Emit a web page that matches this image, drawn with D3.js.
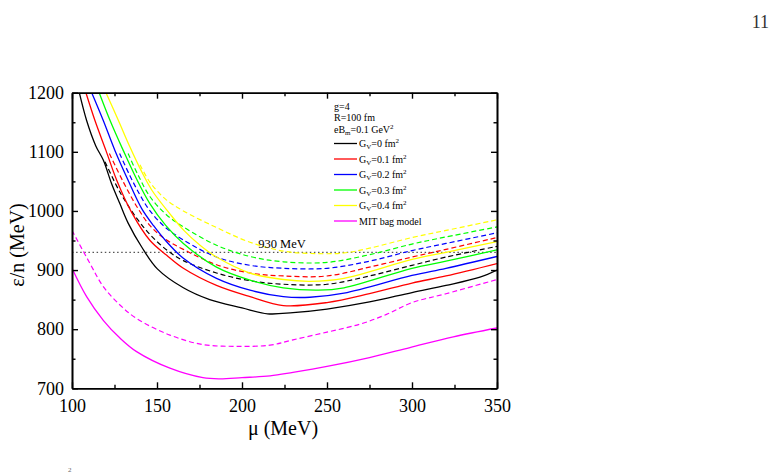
<!DOCTYPE html>
<html>
<head>
<meta charset="utf-8">
<script src="https://cdn.jsdelivr.net/npm/d3@7"></script>
<style>
  body { margin: 0; background: #fff; }
  svg text { font-family: "Liberation Serif", "Times New Roman", serif; fill: #000; }
</style>
</head>
<body>
<svg id="chart1" width="783" height="473"></svg>
<script>
// curves: [mu (MeV), energy per baryon (MeV)]
const gv0Solid = [[104.3,1200],[108.6,1153],[114,1110],[118.4,1086],[123.3,1046],[128.2,1012],[133.1,979],[141,939],[150.2,902],[165.5,870],[181,850],[200,836],[215,826],[230,828],[250,834],[275,846],[300,862],[320,874],[340,888],[350,900]];
const gv1Solid = [[108.2,1200],[113.5,1153],[120,1102],[126.3,1052],[135,998],[145.9,950],[155.7,925],[165.5,903],[185,874],[204.7,855],[224.3,840],[250,845],[275,860],[300,878],[320,890],[350,911]];
const gv2Solid = [[111.6,1200],[118.4,1153],[125.3,1102],[133,1052],[141,1004],[148,975],[155,950],[165.5,920],[185,886],[204.7,866],[224.3,855],[240,854],[260,861],[300,891],[320,903],[350,923]];
const gv3Solid = [[116,1200],[122.4,1153],[130.2,1102],[138,1054],[145.9,1012],[155,976],[165.5,945],[185,905],[204.7,883],[224.3,870],[245,866],[260,870],[300,903],[320,915],[350,934]];
const gv4Solid = [[120,1200],[127.3,1153],[134.1,1108],[140,1072],[147,1035],[157.6,995],[165.5,968],[175.3,942],[185,922],[204.7,895],[224.3,884],[240,881],[260,886],[300,918],[320,930],[350,948]];
const mitSolid = [[100,903],[108.6,855],[118.4,815],[128.2,785],[138,762],[157.6,734],[177,718],[186.8,716],[200,718],[216.5,721],[230,727],[250,737],[275,752],[298.8,769],[324.3,787],[350,802]];

const gv0Dashed = [[119.4,1083],[126.3,1042],[130.2,1022],[138,988],[145.9,960],[155.7,934],[165.5,916],[185,895],[204.7,882],[224.3,876],[250,876],[275,890],[300,908],[320,922],[350,940]];
const gv1Dashed = [[122,1097],[130,1050],[138,1008],[145.9,975],[155,952],[165.5,935],[185,909],[204.7,895],[224.3,890],[250,890],[275,905],[300,922],[320,935],[350,955]];
const gv2Dashed = [[128,1097],[134,1060],[140,1027],[145.9,1000],[155,972],[165.5,951],[185,922],[204.7,908],[224.3,903],[250,903],[275,915],[300,933],[320,945],[350,963]];
const gv3Dashed = [[133,1097],[139,1060],[145.9,1024],[155,995],[165.5,973],[185,942],[204.7,923],[224.3,914],[250,913],[275,926],[300,944],[320,956],[350,973]];
const gv4Dashed = [[140,1078],[146,1048],[155,1020],[165.5,1000],[185,972],[204.7,947],[224.3,932],[240,928],[260,929],[275,937],[300,955],[320,967],[350,985]];
const mitDashed = [[100,967],[110.6,911],[118.4,872],[128.2,841],[138,818],[157.6,790],[177,774],[196.9,771],[216.5,773],[230,782],[250,795],[270,809],[285,825],[300,845],[320,860],[350,884]];

const gvValues = ["0", "0.1", "0.2", "0.3", "0.4"];
const colors = ["#000000", "#ff0000", "#0000ff", "#00ff00", "#ffff00", "#ff00ff"];
const xTicks = [100, 150, 200, 250, 300, 350];
const yTicks = [700, 800, 900, 1000, 1100, 1200];
const refLine = 930;

let margin = {left: 72, right: 497, top: 92.7, bottom: 388.3};
let xLinear, yLinear;

document.addEventListener("DOMContentLoaded", () => {
  const svg = d3.select("#chart1");
  xLinear = d3.scaleLinear().domain([100, 350]).range([margin.left, margin.right]);
  yLinear = d3.scaleLinear().domain([700, 1200]).range([margin.bottom, margin.top]);

  svg.append("text").attr("x", 769).attr("y", 28).attr("text-anchor", "end")
    .style("font-size", "18px").style("fill", "#333").text("11");
  svg.append("text").attr("x", 68).attr("y", 472)
    .style("font-size", "7px").style("fill", "#666").text("2");

  svg.append("clipPath").attr("id", "plotClip").append("rect")
    .attr("x", margin.left).attr("y", margin.top)
    .attr("width", margin.right - margin.left).attr("height", margin.bottom - margin.top);

  const plot = svg.append("g").attr("clip-path", "url(#plotClip)");
  const line = d3.line().x(d => xLinear(d[0])).y(d => yLinear(d[1])).curve(d3.curveCatmullRom.alpha(0.5));

  // 930 MeV reference
  plot.append("line")
    .attr("x1", xLinear(100)).attr("x2", xLinear(350))
    .attr("y1", yLinear(refLine)).attr("y2", yLinear(refLine))
    .attr("stroke", "#555").attr("stroke-width", 1.3).attr("stroke-dasharray", "1.5,2.6");

  const dashed = [gv0Dashed, gv1Dashed, gv2Dashed, gv3Dashed, gv4Dashed, mitDashed];
  const solid = [gv0Solid, gv1Solid, gv2Solid, gv3Solid, gv4Solid, mitSolid];
  dashed.forEach((d, i) => {
    plot.append("path").datum(d).attr("d", line).attr("fill", "none")
      .attr("stroke", colors[i]).attr("stroke-width", 1.2).attr("stroke-dasharray", "5,3");
  });
  solid.forEach((d, i) => {
    plot.append("path").datum(d).attr("d", line).attr("fill", "none")
      .attr("stroke", colors[i]).attr("stroke-width", 1.3);
  });

  svg.append("text").attr("x", xLinear(209.5)).attr("y", 248)
    .style("font-size", "12.5px").text("930 MeV");

  // axes, ticks inward on all four sides
  const xMinor = d3.range(125, 350, 50);
  const yMinor = d3.range(750, 1200, 100);
  const fmt = d3.format("d");
  const ax = svg.append("g");
  ax.append("g").attr("transform", `translate(0,${margin.bottom})`)
    .call(d3.axisBottom(xLinear).tickValues(xTicks).tickFormat(fmt).tickSizeInner(-6).tickSizeOuter(0).tickPadding(11));
  ax.append("g").attr("transform", `translate(0,${margin.bottom})`)
    .call(d3.axisBottom(xLinear).tickValues(xMinor).tickSizeInner(-3.5).tickSizeOuter(0).tickFormat(""));
  ax.append("g").attr("transform", `translate(0,${margin.top})`)
    .call(d3.axisTop(xLinear).tickValues(xTicks).tickSizeInner(-6).tickSizeOuter(0).tickFormat(""));
  ax.append("g").attr("transform", `translate(0,${margin.top})`)
    .call(d3.axisTop(xLinear).tickValues(xMinor).tickSizeInner(-3.5).tickSizeOuter(0).tickFormat(""));
  ax.append("g").attr("transform", `translate(${margin.left},0)`)
    .call(d3.axisLeft(yLinear).tickValues(yTicks).tickFormat(fmt).tickSizeInner(-6).tickSizeOuter(0).tickPadding(8));
  ax.append("g").attr("transform", `translate(${margin.left},0)`)
    .call(d3.axisLeft(yLinear).tickValues(yMinor).tickSizeInner(-3.5).tickSizeOuter(0).tickFormat(""));
  ax.append("g").attr("transform", `translate(${margin.right},0)`)
    .call(d3.axisRight(yLinear).tickValues(yTicks).tickSizeInner(-6).tickSizeOuter(0).tickFormat(""));
  ax.append("g").attr("transform", `translate(${margin.right},0)`)
    .call(d3.axisRight(yLinear).tickValues(yMinor).tickSizeInner(-3.5).tickSizeOuter(0).tickFormat(""));
  ax.selectAll(".domain").attr("stroke", "#000").attr("stroke-width", 1.6);
  ax.selectAll(".tick line").attr("stroke", "#000").attr("stroke-width", 1.4);
  ax.selectAll(".tick text").style("font-family", "Liberation Serif, serif")
    .style("font-size", "18px").attr("fill", "#000");

  svg.append("text").attr("x", 283).attr("y", 435).attr("text-anchor", "middle")
    .style("font-size", "20px").text("μ (MeV)");
  svg.append("text").attr("transform", "translate(24,245) rotate(-90)").attr("text-anchor", "middle")
    .style("font-size", "20px").text("ε/n (MeV)");

  // legend
  const lg = svg.append("g").style("font-size", "10px");
  lg.append("text").attr("x", 334).attr("y", 110).text("g=4");
  lg.append("text").attr("x", 334).attr("y", 121).text("R=100 fm");
  const eb = lg.append("text").attr("x", 334).attr("y", 133);
  eb.append("tspan").text("eB");
  eb.append("tspan").attr("dy", 2).style("font-size", "7px").text("m");
  eb.append("tspan").attr("dy", -2).text("=0.1 GeV");
  eb.append("tspan").attr("dy", -4).style("font-size", "7px").text("2");

  const rows = [143.5, 159, 174.5, 190, 205.5, 221];
  rows.forEach((y, i) => {
    lg.append("line").attr("x1", 334).attr("x2", 357).attr("y1", y).attr("y2", y)
      .attr("stroke", colors[i]).attr("stroke-width", 1.3);
    const t = lg.append("text").attr("x", 359).attr("y", y + 3.5);
    if (i < gvValues.length) {
      t.append("tspan").text("G");
      t.append("tspan").attr("dy", 2).style("font-size", "7px").text("V");
      t.append("tspan").attr("dy", -2).text("=" + gvValues[i] + " fm");
      t.append("tspan").attr("dy", -4).style("font-size", "7px").text("2");
    } else {
      t.text("MIT bag model");
    }
  });
});
</script>
</body>
</html>
